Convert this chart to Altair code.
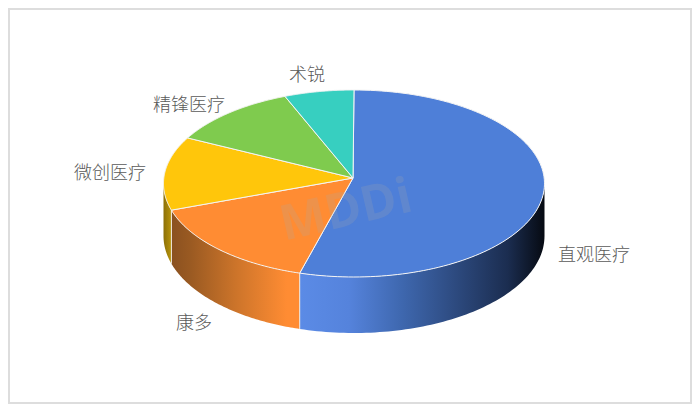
import altair as alt
import numpy as np
import pandas as pd

names = ["直观医疗", "康多", "微创医疗", "精锋医疗", "术锐"]
shares = [54.6, 15.8, 12.7, 11.0, 5.9]
top_colors = ["#4E7FD8", "#FF8C33", "#FFC60B", "#7FCB4E", "#37CFC0"]
label_x = [594, 194, 110, 189, 307]
label_y = [256, 324, 174, 106, 76]

CX, CY, RX, RY = 354, 183.5, 190.5, 93.5
BY, BRY = 236, 97
AX, AY = 353, 178

W_STOPS = {
    0: [(0, "#5B8BE6"), (0.2, "#5583DC"), (0.42, "#3E67AE"), (0.6, "#304F87"), (0.85, "#1B2D50"), (1, "#060A12")],
    1: [(0, "#8A5120"), (0.15, "#9A5A22"), (0.5, "#CC742A"), (0.9, "#FF8C33"), (1, "#FF8C33")],
    2: [(0, "#8C7008"), (1, "#B8940A")],
}

X_SCALE = alt.Scale(domain=[8, 692], range=[0, 684], nice=False, zero=False)
Y_SCALE = alt.Scale(domain=[404, 8], range=[396, 0], nice=False, zero=False)
X = alt.X("x:Q", scale=X_SCALE, axis=None)
Y = alt.Y("y:Q", scale=Y_SCALE, axis=None)

edges = np.concatenate([[0], np.cumsum(shares)]) / sum(shares) * 2 * np.pi


def top_y(t):
    return CY - RY * np.cos(t)


def bot_y(t):
    return BY - BRY * np.cos(t)


def px(t):
    return CX + RX * np.sin(t)


layers = []

# frame
frame = pd.DataFrame([{"x": 9, "x2": 691, "y": 9, "y2": 403}])
layers.append(
    alt.Chart(frame)
    .mark_rect(fill="#FFFFFF", stroke="#DDDDDD", strokeWidth=2)
    .encode(x=X, x2="x2:Q", y=Y, y2="y2:Q")
)

# outer walls of the slices on the near side
for i, stops in W_STOPS.items():
    a = max(edges[i], np.pi / 2)
    b = min(edges[i + 1], 1.5 * np.pi)
    ts = np.linspace(a, b, 80)
    wall = pd.DataFrame({"x": px(ts), "y": top_y(ts), "y2": bot_y(ts)})
    grad = alt.LinearGradient(
        gradient="linear",
        x1=0, y1=0, x2=1, y2=0,
        stops=[alt.GradientStop(offset=o, color=c) for o, c in stops],
    )
    layers.append(
        alt.Chart(wall)
        .mark_area(fill=grad, interpolate="linear")
        .encode(x=X, y=Y, y2="y2:Q")
    )

# separators between walls
sep_t = [edges[1], edges[2]]
seps = pd.DataFrame({"x": [px(t) for t in sep_t], "y": [top_y(t) for t in sep_t], "y2": [bot_y(t) for t in sep_t]})
layers.append(
    alt.Chart(seps)
    .mark_rule(color="#EFE9E0", strokeWidth=1)
    .encode(x=X, y=Y, y2="y2:Q")
)

# top face
for i, c in enumerate(top_colors):
    ts = np.linspace(edges[i], edges[i + 1], 120)
    xs = np.concatenate([[AX], px(ts), [AX]])
    ys = np.concatenate([[AY], top_y(ts), [AY]])
    wedge = pd.DataFrame({"x": xs, "y": ys, "i": np.arange(len(xs))})
    layers.append(
        alt.Chart(wedge)
        .mark_line(fill=c, stroke="#F4F4F4", strokeWidth=1, strokeJoin="round", interpolate="linear")
        .encode(x=X, y=Y, order="i:Q")
    )

# watermark
mark_df = pd.DataFrame([{"x": 346, "y": 211, "t": "MDDi"}])
layers.append(
    alt.Chart(mark_df)
    .mark_text(font="Open Sans", fontSize=49, fontWeight="bold", angle=347, color="#AAAAAA", opacity=0.2,
               align="center", baseline="middle")
    .encode(x=X, y=Y, text="t:N")
)

# labels
labels = pd.DataFrame({"x": label_x, "y": label_y, "t": names})
layers.append(
    alt.Chart(labels)
    .mark_text(font="Noto Sans CJK SC", fontSize=18, fontWeight=300, color="#595959", align="center", baseline="middle")
    .encode(x=X, y=Y, text="t:N")
)

chart = (
    alt.layer(*layers)
    .properties(width=684, height=396, padding=0,
                autosize=alt.AutoSizeParams(type="none"))
    .configure_view(stroke=None)
)

chart.save("out.html", embed_options={"renderer": "svg", "actions": False})
